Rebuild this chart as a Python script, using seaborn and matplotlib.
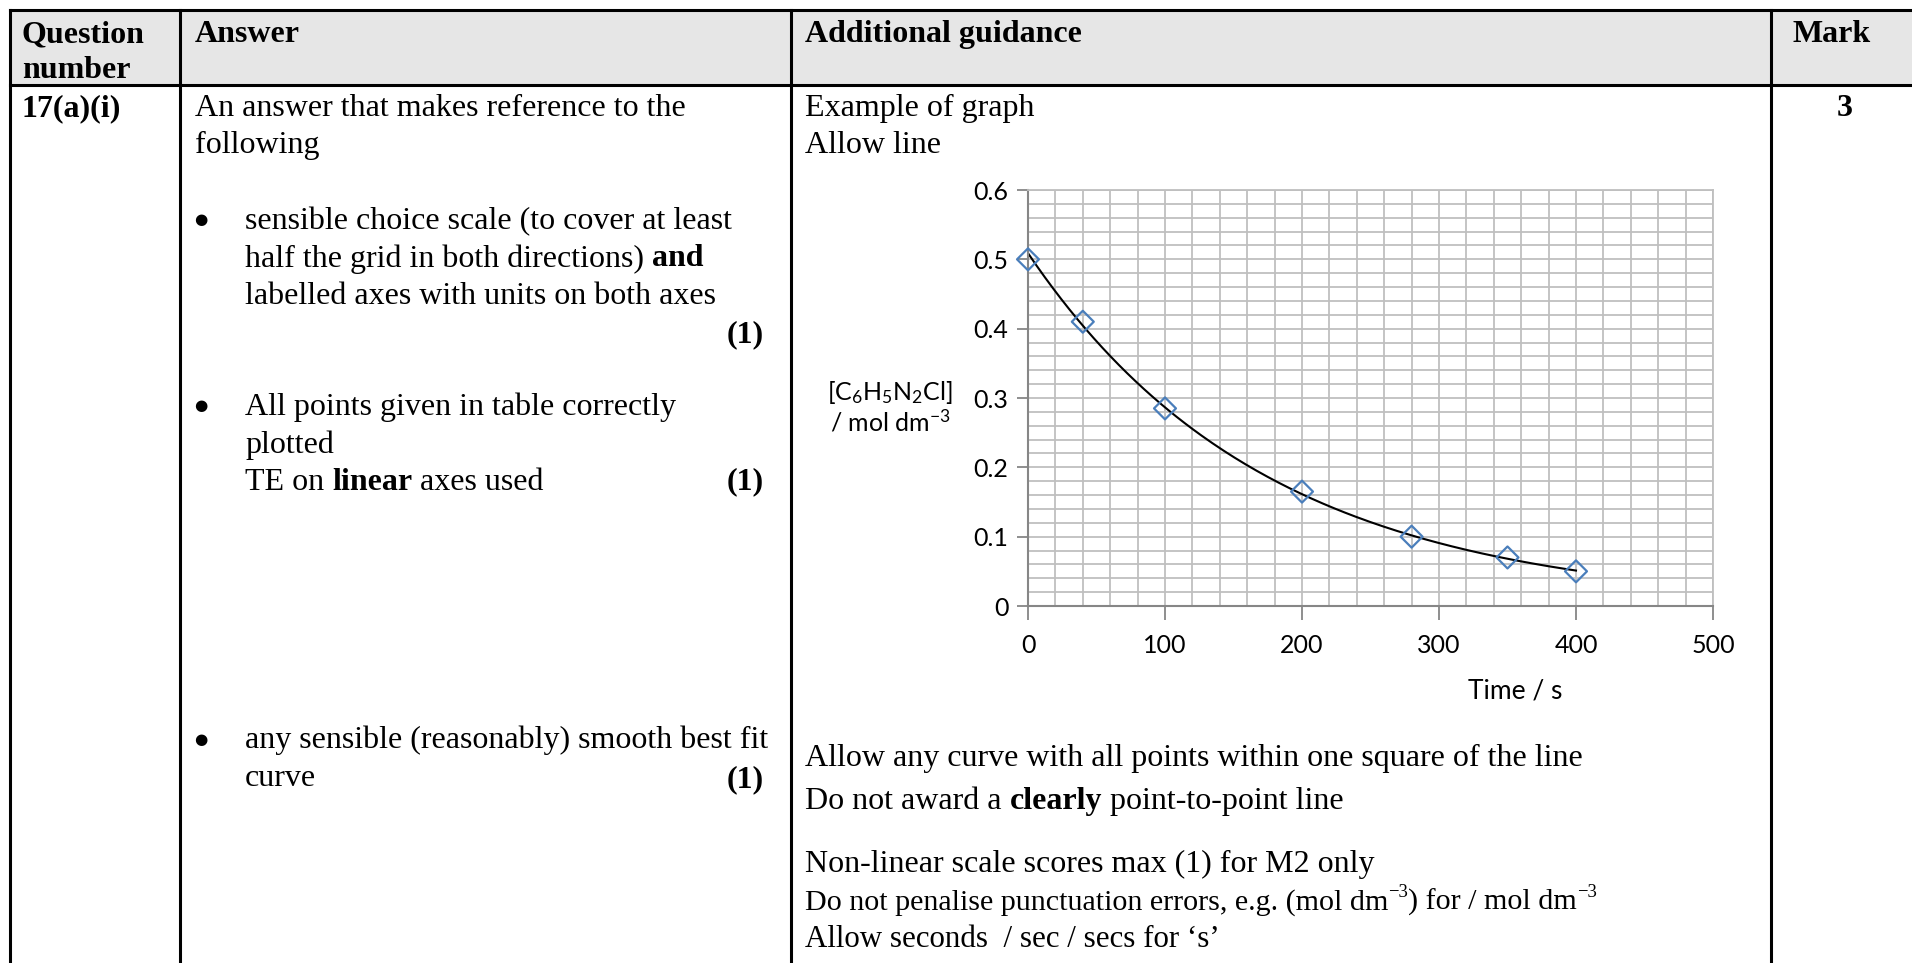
import numpy as np
import matplotlib
matplotlib.use("Agg")
import matplotlib.pyplot as plt
import seaborn as sns

# values
time_s = [0, 40, 100, 200, 280, 350, 400]
conc = [0.5, 0.41, 0.285, 0.165, 0.10, 0.07, 0.05]
x_ticks = [0, 100, 200, 300, 400, 500]
y_ticks = [0, 0.1, 0.2, 0.3, 0.4, 0.5, 0.6]

# table text
headers = ["Question\nnumber", "Answer", "Additional guidance", "Mark"]
question = "17(a)(i)"
mark = "3"
answer_intro = ["An answer that makes reference to the", "following"]
bullet1 = [[("sensible choice scale (to cover at least", "", False)],
           [("half the grid in both directions)", "", False), ("and", "b", True)],
           [("labelled axes with units on both axes", "", False)]]
bullet2 = [[("All points given in table correctly", "", False)],
           [("plotted", "", False)],
           [("TE on", "", False), ("linear", "b", True), ("axes used", "", True)]]
bullet3 = [[("any sensible (reasonably) smooth best fit", "", False)],
           [("curve", "", False)]]
guide_top = ["Example of graph", "Allow line"]
guide_bottom = [
    [("Allow any curve with all points within one square of the line", "", False)],
    [("Do not award a", "", False), ("clearly", "b", True), ("point-to-point line", "", True)],
    [("Non-linear scale scores max (1) for M2 only", "", False)],
    [("Do not penalise punctuation errors, e.g. (mol dm", "", False), ("\u22123", "sup", False),
     (") for / mol dm", "", False), ("\u22123", "sup", False)],
    [("Allow seconds  / sec / secs for \u2018s\u2019", "", False)],
]

SERIF = "Liberation Serif"
SANS = "Lato"
FS = 23
plt.rcParams["mathtext.fontset"] = "custom"
plt.rcParams["mathtext.rm"] = SANS

W, H = 1912, 963
fig = plt.figure(figsize=(W / 100, H / 100), dpi=100)
ax0 = fig.add_axes([0, 0, 1, 1])
ax0.set_xlim(0, W)
ax0.set_ylim(H, 0)
ax0.axis("off")
renderer = fig.canvas.get_renderer()


def write(x, y, parts, size=FS):
    space_w = 0.25 * size * 100 / 72
    for txt, style, gap in parts:
        if gap:
            x += space_w
        fs = size * 0.62 if style == "sup" else size
        dy = -0.42 * size * 100 / 72 if style == "sup" else 0
        t = ax0.text(x, y + dy, txt, fontsize=fs, family=SERIF, va="baseline",
                     fontweight="bold" if style == "b" else "normal")
        x += t.get_window_extent(renderer).width


# table frame
lw = 2.2
ax0.fill_between([10, W], 10, 85, color="#e6e6e6", lw=0)
ax0.plot([10, W], [10, 10], color="black", lw=lw)
ax0.plot([10, W], [85, 85], color="black", lw=lw)
for xc in [10, 180, 791, 1771]:
    ax0.plot([xc, xc], [10, H], color="black", lw=lw)

# headers
ax0.text(22, 42, "Question", fontsize=FS, family=SERIF, fontweight="bold", va="baseline")
ax0.text(22, 78, "number", fontsize=FS, family=SERIF, fontweight="bold", va="baseline")
for x, h in zip([195, 805, 1793], headers[1:]):
    ax0.text(x, 42, h, fontsize=FS, family=SERIF, fontweight="bold", va="baseline")

ax0.text(22, 116, question, fontsize=FS, family=SERIF, fontweight="bold", va="baseline")
ax0.text(1845, 116, mark, fontsize=FS, family=SERIF, fontweight="bold", va="baseline", ha="center")

# answer column
for i, line in enumerate(answer_intro):
    ax0.text(195, 116 + 37 * i, line, fontsize=FS, family=SERIF, va="baseline")
for y0, block in [(229, bullet1), (415, bullet2), (748, bullet3)]:
    ax0.text(201, y0 - 9, "\u25cf", fontsize=11, family="DejaVu Sans", va="center", ha="center")
    for i, line in enumerate(block):
        write(245, y0 + 37.5 * i, line)
for y in [342, 489, 787]:
    ax0.text(764, y, "(1)", fontsize=FS, family=SERIF, fontweight="bold", va="baseline", ha="right")

# guidance column
for i, line in enumerate(guide_top):
    ax0.text(805, 116 + 37 * i, line, fontsize=FS, family=SERIF, va="baseline")
for y, line, fs in zip([766, 809, 872, 910, 947], guide_bottom, [FS, FS, FS, 21.6, 22.3]):
    write(805, y, line, size=fs)

# example graph
ax = fig.add_axes([1028 / W, (H - 606) / H, 685 / W, 416 / H])
ax.set_xlim(0, 500)
ax.set_ylim(0, 0.6)
ax.set_xticks(x_ticks)
ax.set_yticks(y_ticks)
ax.set_xticks(np.arange(0, 501, 20), minor=True)
ax.set_yticks(np.arange(0, 0.601, 0.02), minor=True)
ax.grid(True, which="both", color="#bfbfbf", lw=1.3)
ax.set_axisbelow(True)
ax.tick_params(which="minor", length=0)
ax.tick_params(axis="y", which="major", length=8, width=1.3, color="#868686",
               labelsize=18, pad=6)
ax.tick_params(axis="x", which="major", length=10, width=1.3, color="#868686",
               labelsize=18, pad=10)
ax.set_yticklabels(["0", "0.1", "0.2", "0.3", "0.4", "0.5", "0.6"])
for lab in ax.get_xticklabels() + ax.get_yticklabels():
    lab.set_family(SANS)
for side in ["left", "bottom"]:
    ax.spines[side].set_color("#868686")
    ax.spines[side].set_linewidth(1.5)
for side in ["top", "right"]:
    ax.spines[side].set_color("#bfbfbf")
    ax.spines[side].set_linewidth(1.3)

# smooth best-fit curve (exponential fit to the points)
k, b = np.polyfit(time_s, np.log(conc), 1)
t_fit = np.linspace(0, 400, 200)
sns.lineplot(x=t_fit, y=np.exp(b + k * t_fit), color="black", lw=1.5, ax=ax)
sns.scatterplot(x=time_s, y=conc, marker="D", s=125, facecolor="none",
                edgecolor="#4a7ebb", linewidth=1.6, ax=ax, zorder=3, clip_on=False)

ax.set_xlabel("")
ax.set_ylabel("")
fig.text(890 / W, 1 - 392 / H, r"[C$\mathregular{_6}$H$\mathregular{_5}$N$\mathregular{_2}$Cl]",
         ha="center", va="center", fontsize=18, family=SANS)
fig.text(890 / W, 1 - 422 / H, r"/ mol dm$\mathregular{^{-3}}$",
         ha="center", va="center", fontsize=18, family=SANS)
fig.text(1515 / W, 1 - 691 / H, "Time / s", ha="center", va="center", fontsize=19, family=SANS)

fig.savefig("out.png", dpi=100)
